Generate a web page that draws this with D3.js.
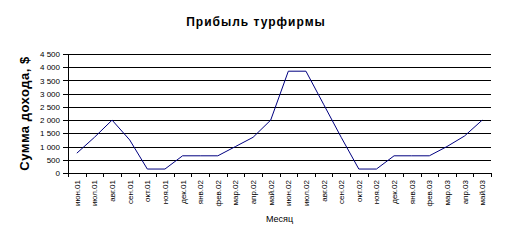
<!DOCTYPE html>
<html>
<head>
<meta charset="utf-8">
<script src="https://cdn.jsdelivr.net/npm/d3@7"></script>
<style>
  body { margin: 0; background: #fff; }
  svg text { font-family: Arial, "Liberation Sans", sans-serif; fill: #000; }
</style>
</head>
<body>
<div id="chart"></div>
<script>
// months and profit values
var months = ["июн.01", "июл.01", "авг.01", "сен.01", "окт.01", "ноя.01", "дек.01", "янв.02",
    "фев.02", "мар.02", "апр.02", "май.02", "июн.02", "июл.02", "авг.02", "сен.02",
    "окт.02", "ноя.02", "дек.02", "янв.03", "фев.03", "мар.03", "апр.03", "май.03"];
var profit = [750, 1350, 2000, 1250, 150, 150, 650, 650,
    650, 1000, 1350, 2000, 3850, 3850, 2600, 1350,
    150, 150, 650, 650, 650, 1000, 1400, 2000];
var yTicks = [0, 500, 1000, 1500, 2000, 2500, 3000, 3500, 4000, 4500];

let margin = {top: 54, right: 23, bottom: 70, left: 68},
    width = 514 - margin.left - margin.right,
    height = 243 - margin.top - margin.bottom;

let svg = d3.select("#chart").append("svg")
    .attr("width", 514)
    .attr("height", 243);

let g = svg.append("g")
    .attr("transform", "translate(" + margin.left + "," + margin.top + ")");

let x = d3.scaleBand()
    .domain(months)
    .range([0, width]);

let y = d3.scaleLinear()
    .domain([0, 4500])
    .range([height, 0]);

// gridlines
g.selectAll(".grid")
    .data(yTicks.slice(1))
    .enter()
    .append("line")
    .attr("class", "grid")
    .attr("x1", 0)
    .attr("x2", width)
    .attr("y1", d => Math.round(y(d)) + 0.5)
    .attr("y2", d => Math.round(y(d)) + 0.5)
    .attr("stroke", "#000")
    .attr("shape-rendering", "crispEdges");

// y axis
let yAxis = d3.axisLeft(y)
    .tickValues(yTicks)
    .tickSize(5)
    .tickPadding(3)
    .tickFormat(d => d3.format(",")(d).replace(",", " "));

let yAxisGroup = g.append("g")
    .attr("class", "y-axis")
    .call(yAxis);
yAxisGroup.select(".domain").attr("d", "M0.5," + (height + 0.5) + "V0.5");
yAxisGroup.selectAll("line, path").attr("stroke", "#000").attr("shape-rendering", "crispEdges");
yAxisGroup.selectAll("text").attr("font-size", 8).style("font-family", "Arial, 'Liberation Sans', sans-serif");

// x axis: ticks between categories
let xAxisGroup = g.append("g")
    .attr("class", "x-axis")
    .attr("transform", "translate(0," + height + ")");

xAxisGroup.append("line")
    .attr("x1", 0).attr("x2", width)
    .attr("y1", 0.5).attr("y2", 0.5)
    .attr("stroke", "#000")
    .attr("shape-rendering", "crispEdges");

xAxisGroup.selectAll(".tick")
    .data(months.concat(["end"]))
    .enter()
    .append("line")
    .attr("class", "tick")
    .attr("x1", (d, i) => Math.round(i * x.step()) + 0.5)
    .attr("x2", (d, i) => Math.round(i * x.step()) + 0.5)
    .attr("y1", 0)
    .attr("y2", 4)
    .attr("stroke", "#000")
    .attr("shape-rendering", "crispEdges");

xAxisGroup.selectAll(".label")
    .data(months)
    .enter()
    .append("text")
    .attr("class", "label")
    .attr("font-size", 8)
    .attr("text-anchor", "end")
    .attr("transform", d => "translate(" + (x(d) + x.bandwidth() / 2 + 3) + ",7) rotate(-90)")
    .text(d => d);

// line
let line = d3.line()
    .x((d, i) => x(months[i]) + x.bandwidth() / 2)
    .y(d => y(d));

g.append("path")
    .datum(profit)
    .attr("d", line)
    .attr("fill", "none")
    .attr("stroke", "#000080")
    .attr("stroke-width", 1);

// titles
svg.append("text")
    .attr("x", 256)
    .attr("y", 26)
    .attr("text-anchor", "middle")
    .attr("font-size", 12)
    .attr("font-weight", "bold")
    .attr("letter-spacing", 1)
    .text("Прибыль турфирмы");

svg.append("text")
    .attr("x", margin.left + width / 2)
    .attr("y", 222)
    .attr("text-anchor", "middle")
    .attr("font-size", 9)
    .text("Месяц");

svg.append("text")
    .attr("transform", "translate(29," + (margin.top + height / 2) + ") rotate(-90)")
    .attr("text-anchor", "middle")
    .attr("font-size", 13)
    .attr("font-weight", "bold")
    .attr("letter-spacing", 0.5)
    .text("Сумма дохода, $");
</script>
</body>
</html>
